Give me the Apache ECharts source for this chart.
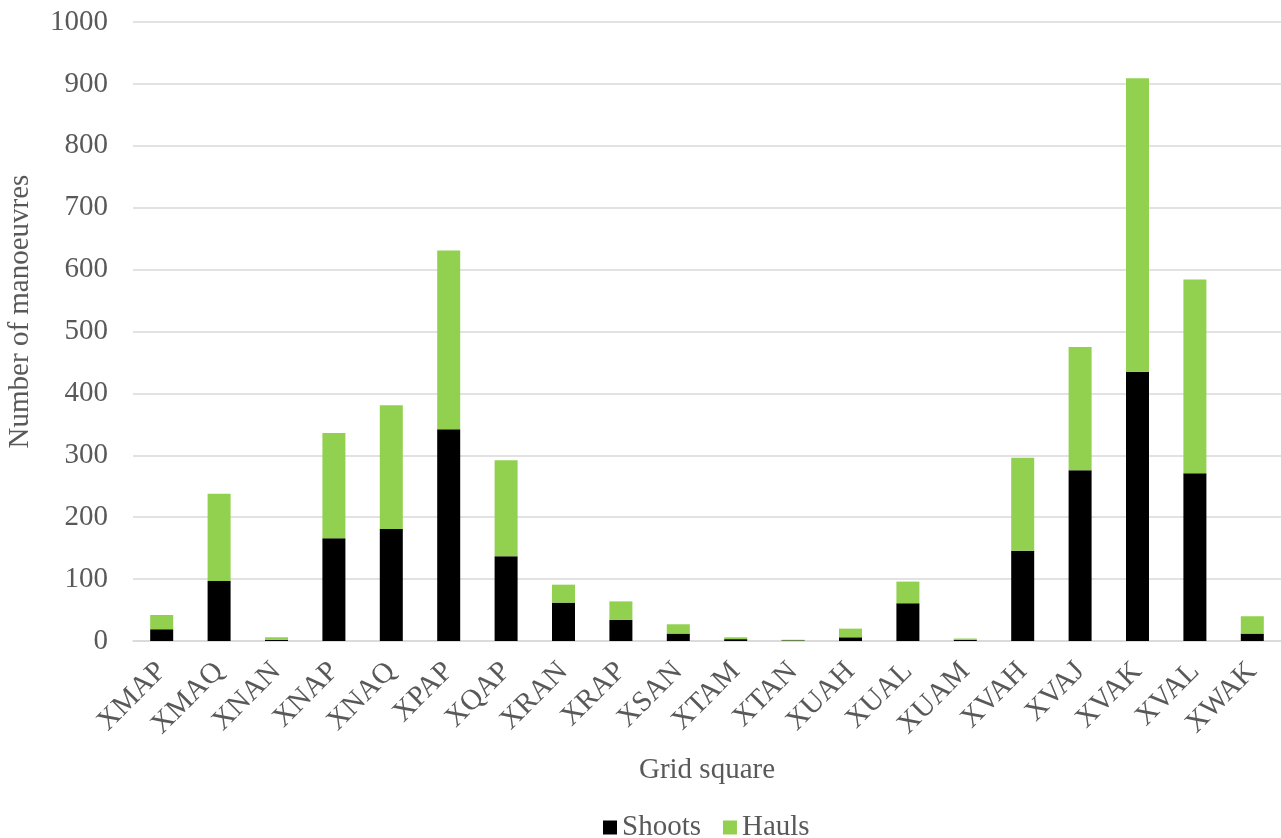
<!DOCTYPE html>
<html>
<head>
<meta charset="utf-8">
<title>Manoeuvres by grid square</title>
<script src="https://cdn.jsdelivr.net/npm/echarts@6/dist/echarts.min.js"></script>
<style>
  html, body { margin: 0; padding: 0; background: #fff; }
  #chart { width: 1281px; height: 838px; }
</style>
</head>
<body>
<div id="chart"></div>
<script>
// grid squares along the x axis
const squares = ['XMAP', 'XMAQ', 'XNAN', 'XNAP', 'XNAQ', 'XPAP', 'XQAP', 'XRAN', 'XRAP', 'XSAN',
  'XTAM', 'XTAN', 'XUAH', 'XUAL', 'XUAM', 'XVAH', 'XVAJ', 'XVAK', 'XVAL', 'XWAK']
// values
const shoots = [19, 97, 2, 166, 181, 342, 137, 62, 34, 12, 3, 1, 6, 61, 2, 146, 276, 435, 271, 12]
const hauls = [23, 141, 4, 170, 200, 289, 155, 29, 30, 15, 3, 1, 14, 35, 2, 150, 199, 474, 313, 28]

const textColor = '#595959'
const font = 'Liberation Serif'
const fontSize = 29

const chart = echarts.init(document.getElementById('chart'))

const option = {
  animation: false,
  textStyle: { fontFamily: font },
  grid: {
    left: 133,
    right: 0,
    top: 22,
    bottom: 197,
    outerBoundsMode: 'none'
  },
  legend: {
    bottom: -9,
    left: 598,
    itemWidth: 14,
    itemHeight: 14,
    itemGap: 22,
    icon: 'rect',
    textStyle: { color: textColor, fontSize: fontSize, fontFamily: font },
    data: ['Shoots', 'Hauls']
  },
  xAxis: {
    type: 'category',
    data: squares,
    name: 'Grid square',
    nameLocation: 'middle',
    nameGap: 115,
    nameTextStyle: { color: textColor, fontSize: fontSize, fontFamily: font },
    axisLine: { lineStyle: { color: '#d9d9d9', width: 1.5 } },
    axisTick: { show: false },
    axisLabel: {
      rotate: 45,
      color: textColor,
      fontSize: fontSize,
      fontFamily: font,
      margin: 26
    }
  },
  yAxis: {
    type: 'value',
    min: 0,
    max: 1000,
    interval: 100,
    name: 'Number of manoeuvres',
    nameLocation: 'middle',
    nameGap: 98,
    nameTextStyle: { color: textColor, fontSize: fontSize, fontFamily: font, padding: [0, 0, 0, 40] },
    axisLine: { show: false },
    axisTick: { show: false },
    axisLabel: {
      color: textColor,
      fontSize: fontSize,
      fontFamily: font,
      margin: 25,
      formatter: (v) => String(v)
    },
    splitLine: { lineStyle: { color: '#d9d9d9', width: 1.5 } }
  },
  series: [
    {
      name: 'Shoots',
      type: 'bar',
      stack: 'total',
      barWidth: 23,
      itemStyle: { color: '#000000' },
      data: shoots
    },
    {
      name: 'Hauls',
      type: 'bar',
      stack: 'total',
      barWidth: 23,
      itemStyle: { color: '#92d050' },
      data: hauls
    }
  ]
}

chart.setOption(option)
window.addEventListener('resize', () => {
  chart.resize()
})
</script>
</body>
</html>
